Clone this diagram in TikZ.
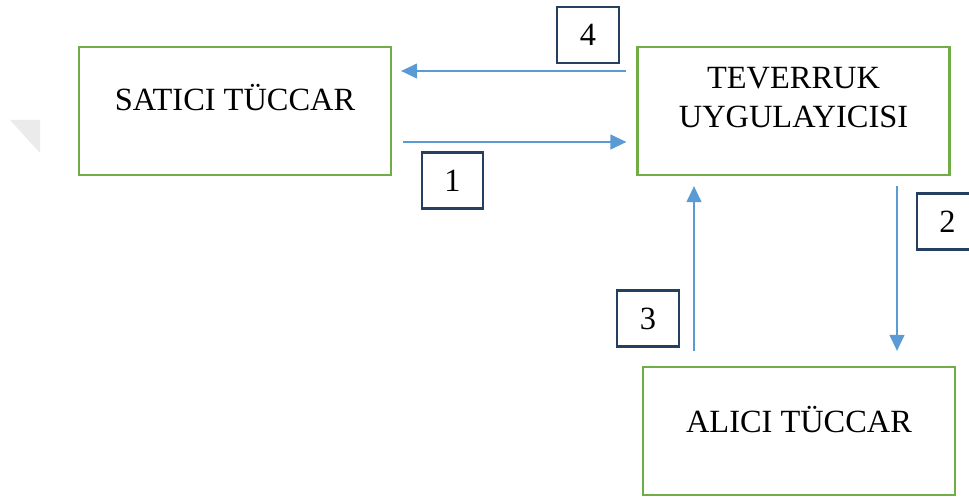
\documentclass[tikz,border=0pt]{standalone}
\usepackage{fontspec}
\setmainfont{Liberation Serif}
\usetikzlibrary{arrows.meta}
\definecolor{boxgreen}{HTML}{70AD47}
\definecolor{flowblue}{HTML}{5B9BD5}
\definecolor{tagnavy}{HTML}{243F60}
\tikzset{%
  trader/.style     = {shape=rectangle, draw=boxgreen, line width=1.6pt,%
                       minimum width=234pt, minimum height=96pt},%
  tradertext/.style = {align=center, inner sep=0pt,%
                       font=\fontsize{24.3}{29.25}\selectfont},%
  tag/.style        = {shape=rectangle, draw=tagnavy, line width=1.6pt,%
                       minimum width=46pt, minimum height=42pt, inner sep=0pt,%
                       font=\fontsize{24.3}{29.25}\selectfont},%
  flow/.style       = {draw=flowblue, line width=1.6pt,%
                       -{Triangle[length=12pt,width=11pt]}}%
}
\begin{document}
\begin{tikzpicture}[x=0.75pt,y=-0.75pt]
	\useasboundingbox (0,0) rectangle (969,498);
		\fill[black!8] (10,120) -- (40,120) -- (40,153) -- cycle;
		\node[trader] (satici) at (235,111) {};
		\node[tradertext,anchor=base] (saticitext) at (235,111) {SATICI TÜCCAR};
		\node[trader] (teverruk) at (793.5,111) {};
		\node[tradertext,anchor=north] (teverruktext) at (793.5,67) {TEVERRUK\\UYGULAYICISI};
		\node[trader] (alici) at (799,431) {};
		\node[tradertext,anchor=base] (alicitext) at (799,432) {ALICI TÜCCAR};
		\node[tag] (n4) at (588,35) {4};
		\node[tag] (n1) at (452.5,180.5) {1};
		\node[tag] (n2) at (947.5,221.5) {2};
		\node[tag] (n3) at (648,318.5) {3};
		\draw[flow] ([shift={(-10,-40)}]teverruk.west) -- ([shift={(9,-40)}]satici.east);
		\draw[flow] ([shift={(11,31)}]satici.east) -- ([shift={(-10,31)}]teverruk.west);
		\draw[flow] ([shift={(103.5,10)}]teverruk.south) -- ([shift={(98,-15)}]alici.north);
		\draw[flow] ([shift={(-105,-15)}]alici.north) -- ([shift={(-99.5,10)}]teverruk.south);
	\end{tikzpicture}
\end{document}
